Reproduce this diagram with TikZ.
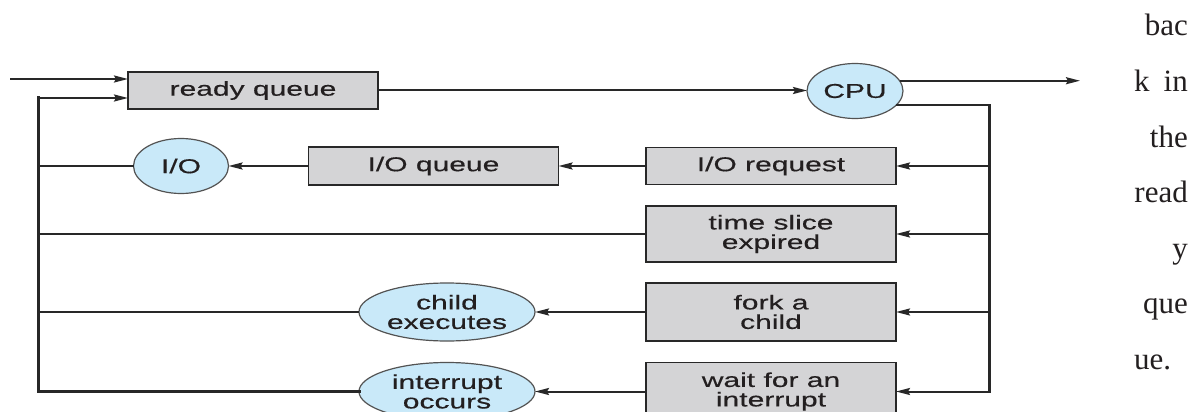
\documentclass[tikz,border=0pt]{standalone}
\usepackage{fontspec}
\usetikzlibrary{arrows.meta,shapes.geometric}
% wide sans for the diagram labels, serif for the running text column
\newfontfamily\diagfont[FakeStretch=1.5,FakeBold=0.4]{Liberation Sans}
\newfontfamily\bodyfont{Liberation Serif}
\definecolor{boxgray}{RGB}{212,212,214}
\definecolor{cellblue}{RGB}{201,233,249}
\definecolor{edge}{RGB}{40,40,40}
\definecolor{ink}{RGB}{35,31,32}

\begin{document}
\begin{tikzpicture}[x=1pt,y=-1pt,
  queuebox/.style={draw=edge, line width=1.6pt, fill=boxgray, rectangle,
    minimum width=250pt, inner sep=0pt, outer sep=0pt, align=center,
    font=\diagfont\fontsize{20}{19.5}\selectfont, text=ink},
  devnode/.style={draw=edge!80, line width=1.2pt, fill=cellblue, ellipse,
    inner sep=0pt, outer sep=0pt, align=center,
    font=\diagfont\fontsize{20}{19.5}\selectfont, text=ink},
  flow/.style={draw=edge, line width=2pt,
    -{Stealth[length=14pt,width=7pt,inset=2pt]}},
  plain/.style={draw=edge, line width=2pt},
  trunk/.style={draw=edge, line width=3pt, line cap=rect},
  prose/.style={font=\bodyfont\fontsize{31}{36}\selectfont, text=ink, inner sep=0pt}
]
\fill[white] (0,0) rectangle (1200,412);
\clip (0,0) rectangle (1200,412);

% queues and devices
\node[queuebox, minimum height=37pt] (rq) at (253,90.5) {ready queue};
\node[devnode, minimum width=96pt, minimum height=55pt] (cpu) at (855,91) {CPU};

\node[queuebox, minimum height=37pt] (ioreq) at (771,166) {I/O request};
\node[queuebox, minimum height=38pt] (ioq) at (433.5,166) {I/O queue};
\node[devnode, minimum width=95pt, minimum height=55pt] (io) at (181,166) {I/O};

\node[queuebox, minimum height=56pt] (ts) at (771,234) {time slice\\expired};

\node[queuebox, minimum height=58pt] (fork) at (771,312) {fork a\\child};
\node[devnode, minimum width=176pt, minimum height=58pt] (child) at (447,312) {child\\executes};

\node[queuebox, minimum height=58pt] (wait) at (771,391.5) {wait for an\\interrupt};
\node[devnode, minimum width=176pt, minimum height=58pt] (intr) at (447,391.5) {interrupt\\occurs};

% routing points
\coordinate (src) at (10,79);
\coordinate (lt) at (38,98);
\coordinate (lb) at (38,391.5);
\coordinate (rt) at (989.5,105);
\coordinate (exit) at (1080,81);

% entry and dispatch
\draw[flow] (src) -- (rq.west |- src);
\draw[flow] (rq.east) -- (rq.east -| cpu.west);
\draw[flow] (cpu.13) -- (cpu.13 -| exit);

% CPU leaves to the event branches
\draw[plain] (cpu.-19) -- (cpu.-19 -| rt);
\draw[trunk] (cpu.-19 -| rt) -- (wait.east -| rt);
\draw[flow] (ioreq.east -| rt) -- (ioreq.east);
\draw[flow] (ts.east -| rt) -- (ts.east);
\draw[flow] (fork.east -| rt) -- (fork.east);
\draw[flow] (wait.east -| rt) -- (wait.east);

% branches back toward the ready queue
\draw[flow] (ioreq.west) -- (ioq.east);
\draw[flow] (ioq.west) -- (io.east);
\draw[flow] (fork.west) -- (child.east);
\draw[flow] (wait.west) -- (intr.east);

\draw[trunk] (intr.west) -- (lb) -- (lt);
\draw[flow] (lt) -- (rq.west |- lt);
\draw[plain] (io.west) -- (io.west -| lb);
\draw[plain] (ts.west) -- (ts.west -| lb);
\draw[plain] (child.west) -- (child.west -| lb);

% justified text column at the right
\node[prose, anchor=base east] (w1) at (1188,36) {bac};
\node[prose, anchor=base west] (w2a) at (1134,91.5) {k};
\node[prose, anchor=base east] (w2b) at (1188,91.5) {in};
\node[prose, anchor=base east] (w3) at (1188,147) {the};
\node[prose, anchor=base east] (w4) at (1188,202.5) {read};
\node[prose, anchor=base east] (w5) at (1188,258) {y};
\node[prose, anchor=base east] (w6) at (1188,313.5) {que};
\node[prose, anchor=base west] (w7) at (1134,369) {ue.};
\end{tikzpicture}
\end{document}
